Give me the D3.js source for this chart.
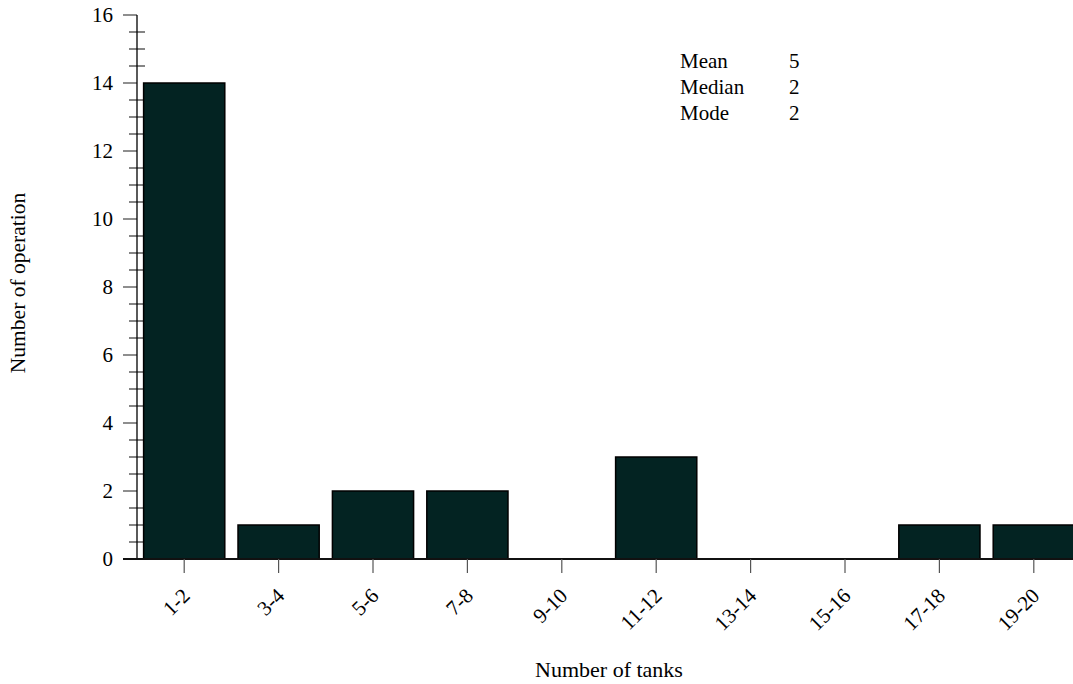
<!DOCTYPE html>
<html><head><meta charset="utf-8">
<script src="https://cdn.jsdelivr.net/npm/d3@7"></script>
<style>body{margin:0;background:#fff}svg{display:block}text{font-family:"Liberation Serif","Times New Roman","DejaVu Serif",serif;fill:#000}</style>
</head><body><svg id="c" width="1073" height="684"></svg>
<script>
const categories = ["1-2","3-4","5-6","7-8","9-10","11-12","13-14","15-16","17-18","19-20"];
const counts = [14,1,2,2,0,3,0,0,1,1];
const yMajorTicks = [0,2,4,6,8,10,12,14,16];
const statLabels = ["Mean","Median","Mode"];
const statValues = [5,2,2];

const svg = d3.select("#c");
const x = d3.scaleBand().domain(categories).range([137,1081]).paddingInner(0.14).paddingOuter(0.07);
const y = d3.scaleLinear().domain([0,16]).range([559,15]);

// minor ticks
const minor = d3.range(0,16.01,0.5).filter(v=>v%2!==0);
svg.append("g").selectAll("line").data(minor).join("line")
  .attr("x1",129).attr("x2",145).attr("y1",d=>y(d)).attr("y2",d=>y(d))
  .attr("stroke","#333").attr("stroke-width",1.2);
// major ticks
svg.append("g").selectAll("line").data(yMajorTicks).join("line")
  .attr("x1",123).attr("x2",137).attr("y1",d=>y(d)).attr("y2",d=>y(d))
  .attr("stroke","#444").attr("stroke-width",1.2);
svg.append("g").selectAll("text").data(yMajorTicks).join("text")
  .attr("x",113).attr("y",d=>y(d)).attr("dy","0.35em").attr("text-anchor","end")
  .attr("font-size",21).text(d=>d);
// y axis line
svg.append("line").attr("x1",137).attr("x2",137).attr("y1",y(16)).attr("y2",y(0))
  .attr("stroke","#000").attr("stroke-width",1.3);

// bars
svg.append("g").selectAll("rect").data(counts).join("rect")
  .attr("x",(d,i)=>x(categories[i])).attr("width",x.bandwidth())
  .attr("y",d=>y(d)).attr("height",d=>y(0)-y(d))
  .attr("fill","#032322").attr("stroke","#000").attr("stroke-width",1.5);

// baseline
svg.append("line").attr("x1",123).attr("x2",1073).attr("y1",y(0)).attr("y2",y(0))
  .attr("stroke","#111").attr("stroke-width",2);

// x ticks
svg.append("g").selectAll("line").data(categories).join("line")
  .attr("x1",d=>x(d)+x.bandwidth()/2).attr("x2",d=>x(d)+x.bandwidth()/2)
  .attr("y1",y(0)).attr("y2",y(0)+14).attr("stroke","#555").attr("stroke-width",1.2);
svg.append("g").selectAll("text").data(categories).join("text")
  .attr("transform",d=>`translate(${x(d)+x.bandwidth()/2+7},${y(0)+38}) rotate(-45)`)
  .attr("text-anchor","end").attr("font-size",21).text(d=>d);

// titles
svg.append("text").attr("transform","translate(25,283) rotate(-90)").attr("text-anchor","middle")
  .attr("font-size",21.5).text("Number of operation");
svg.append("text").attr("x",609).attr("y",677).attr("text-anchor","middle")
  .attr("font-size",22).text("Number of tanks");

// stats box
const sg = svg.append("g");
sg.selectAll("text.l").data(statLabels).join("text").attr("class","l")
  .attr("x",680).attr("y",(d,i)=>68+i*26).attr("font-size",21).text(d=>d);
sg.selectAll("text.v").data(statValues).join("text").attr("class","v")
  .attr("x",789).attr("y",(d,i)=>68+i*26).attr("font-size",21).text(d=>d);
</script></body></html>
